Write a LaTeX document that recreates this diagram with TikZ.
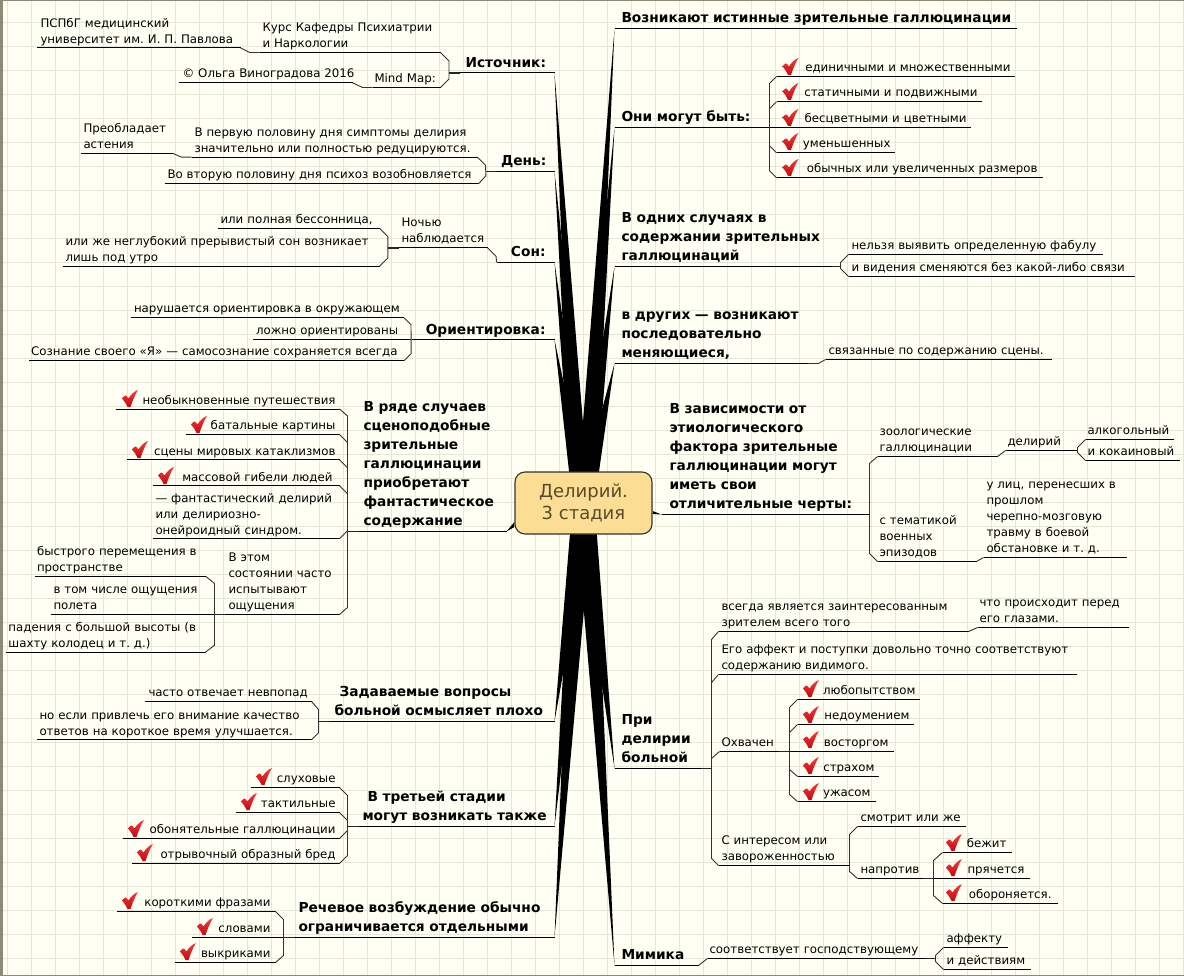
\documentclass[tikz,border=0pt]{standalone}
\usepackage{fontspec}
\setmainfont{DejaVu Sans}
\usepackage{xcolor}
\usepackage{tikz}
\usetikzlibrary{backgrounds}

\definecolor{paper}{HTML}{FFFFF3}
\definecolor{gridline}{HTML}{E4E6D6}
\definecolor{frameline}{HTML}{8A8C78}
\definecolor{hubfill}{HTML}{FBDD94}
\definecolor{hubtext}{HTML}{5A4A2A}
\definecolor{tickhigh}{HTML}{F53A3A}
\definecolor{ticklow}{HTML}{C20C12}

\newcommand{\spoke}[3]{\fill[black] ([xshift=#2pt]hub.center) -- (#1) -- ([xshift=#3pt]hub.center) -- cycle;}

\begin{document}
\frenchspacing
\begin{tikzpicture}[x=1pt,y=-1pt,
	lined/.style 2 args={inner xsep=#1pt,text width=(#2-2*#1)*1pt},
	leaf/.style={anchor=south west,xshift=0.5pt,yshift=-0.5pt,inner ysep=0pt,outer sep=0pt,align=left,font=\fontsize{11.8}{16}\selectfont,execute at end node=\strut},
	leafr/.style={leaf,align=right},
	head/.style={leaf,font=\fontsize{13.75}{19}\selectfont\bfseries},
	headr/.style={head,align=right},
	under/.style={line width=1pt,black},
	link/.style={line width=0.9pt,black!80,line join=round},
	stub/.style={line width=1.8pt,black!85},
	tick/.pic={\shade[top color=tickhigh,bottom color=ticklow,draw=none]
		(0,8.5) .. controls (1.5,6) and (3,5.5) .. (4,5.5) -- (6.5,8.5) .. controls (9,4.5) and (12,1.5) .. (16,0)
		.. controls (13,4.5) and (10.5,11) .. (8.5,17) -- (5.5,17) .. controls (4,13.5) and (2,10.5) .. (0,8.5) -- cycle;}]

	\useasboundingbox (0,0) rectangle (1184,976);

	% The root
	\node [draw=black!80,line width=1.1pt,fill=hubfill,rounded corners=10pt,minimum width=137pt,minimum height=62pt,align=center,text=hubtext,font=\fontsize{18}{22}\selectfont] at (583.5,503) (hub) {Делирий.\\3 стадия};

	% Top left
	\node [leaf,lined={4}{204}] at (36,47.5) (psmu) {ПСПбГ медицинский\\университет им. И. П. Павлова};
	\node [leaf,lined={3}{181}] at (259,52) (course) {Курс Кафедры Психиатрии\\и Наркологии};
	\node [leaf,lined={4}{174}] at (178,82.3) (author) {\mbox{© Ольга Виноградова 2016}};
	\node [leaf,lined={2}{68}] at (372,87) (mindmap) {\mbox{Mind Map:}};
	\node [head,lined={6}{95}] at (459,72.5) (source) {Источник:};

	\node [leaf,lined={3}{92}] at (80,152.7) (asthenia) {Преобладает\\астения};
	\node [leaf,lined={3}{286}] at (191,156.7) (firsthalf) {В первую половину дня симптомы делирия\\значительно или полностью редуцируются.};
	\node [leaf,lined={3}{314}] at (164,183.3) (secondhalf) {\mbox{Во вторую половину дня психоз возобновляется}};
	\node [head,lined={4.6}{58}] at (496,171) (day) {День:};

	\node [leaf,lined={3}{162}] at (217,227.7) (insomnia) {\mbox{или полная бессонница,}};
	\node [leaf,lined={3}{317}] at (62,265.7) (shallow) {или же неглубокий прерывистый сон возникает\\лишь под утро};
	\node [leaf,lined={3}{89}] at (398,247.3) (night) {Ночью\\наблюдается};
	\node [headr,lined={9}{58}] at (496,261.7) (sleep) {Сон:};

	\node [leaf,lined={3}{273}] at (130.5,317.3) (disturbed) {\mbox{нарушается ориентировка в окружающем}};
	\node [leaf,lined={3}{158}] at (252.6,339.3) (falsely) {\mbox{ложно ориентированы}};
	\node [leaf,lined={2}{375}] at (28.7,360) (selfaware) {\mbox{Сознание своего «Я» — самосознание сохраняется всегда}};
	\node [headr,lined={9}{143}] at (411,339.3) (orient) {Ориентировка:};

	% Middle left
	\node [leafr,lined={4}{224}] at (115,408.5) (travels) {необыкновенные путешествия};
	\node [leafr,lined={4}{154}] at (185,434) (battles) {батальные картины};
	\node [leafr,lined={4}{213}] at (126,459.3) (disasters) {сцены мировых катаклизмов};
	\node [leafr,lined={7}{187}] at (152,485.3) (deaths) {массовой гибели людей};
	\node [leaf,lined={3}{187}] at (152,538.3) (fantastic) {— фантастический делирий\\или делириозно-\\онейроидный синдром.};
	\node [leaf,lined={3}{114}] at (225,614) (feelings) {В этом\\состоянии часто\\испытывают\\ощущения};
	\node [leaf,lined={2}{171}] at (34.5,576) (moving) {быстрого перемещения в\\пространстве};
	\node [leaf,lined={3}{164}] at (50,614) (flight) {в том числе ощущения\\полета};
	\node [leaf,lined={3}{200}] at (5,651.7) (falling) {падения с большой высоты (в\\шахту колодец и т. д.)};
	\node [head,lined={5}{148}] at (358,531) (scenes) {В ряде случаев\\сценоподобные\\зрительные\\галлюцинации\\приобретают\\фантастическое\\содержание};

	% Bottom left
	\node [leaf,lined={4}{167}] at (144,701) (offpoint) {\mbox{часто отвечает невпопад}};
	\node [leaf,lined={3}{275}] at (36,739.3) (attention) {но если привлечь его внимание качество\\ответов на короткое время улучшается.};
	\node [head,lined={5}{225}] at (329,721) (questions) {\hspace*{5pt}Задаваемые вопросы\\больной осмысляет плохо};

	\node [leafr,lined={4}{89}] at (250,787) (auditory) {слуховые};
	\node [leafr,lined={4}{104}] at (235,812) (tactile) {тактильные};
	\node [leafr,lined={4}{217}] at (122,838) (olfactory) {обонятельные галлюцинации};
	\node [leafr,lined={4}{208}] at (131,863) (fragment) {отрывочный образный бред};
	\node [head,lined={4}{196}] at (358,826) (third) {\hspace*{5pt}В третьей стадии\\могут возникать также};

	\node [leafr,lined={5}{159}] at (116,911) (phrases) {короткими фразами};
	\node [leafr,lined={13}{92}] at (191,937) (words) {словами};
	\node [leafr,lined={5}{101}] at (174,962) (shouts) {выкриками};
	\node [head,lined={5}{261}] at (293,937) (speech) {Речевое возбуждение обычно\\ограничивается отдельными};

	% Top right
	\node [head,lined={7}{402}] at (614,28) (arise) {\mbox{Возникают истинные зрительные галлюцинации}};

	\node [head,lined={7}{155}] at (614,127) (canbe) {\mbox{Они могут быть:}};
	\node [leafr,lined={4}{238}] at (776,76) (single) {единичными и множественными};
	\node [leafr,lined={4}{205}] at (776,101.3) (static) {статичными и подвижными};
	\node [leafr,lined={4}{201}] at (769,127) (colour) {бесцветными и цветными};
	\node [leafr,lined={4}{118}] at (776,152.3) (reduced) {уменьшенных};
	\node [leafr,lined={5}{266}] at (776,177.3) (normal) {обычных или увеличенных размеров};

	\node [head,lined={7}{217}] at (614,266) (some) {В одних случаях в\\содержании зрительных\\галлюцинаций};
	\node [leaf,lined={3}{254}] at (848,254) (noplot) {\mbox{нельзя выявить определенную фабулу}};
	\node [leaf,lined={3}{286}] at (848,276) (noconn) {\mbox{и видения сменяются без какой-либо связи}};

	\node [head,lined={7}{193}] at (614,363) (others) {в других — возникают\\последовательно\\меняющиеся,};
	\node [leaf,lined={3}{226}] at (825,359) (related) {\mbox{связанные по содержанию сцены.}};

	% Middle right
	\node [head,lined={8}{208}] at (661,514) (factor) {В зависимости от\\этиологического\\фактора зрительные\\галлюцинации могут\\иметь свои\\отличительные черты:};
	\node [leaf,lined={2}{120}] at (877,456) (zoo) {зоологические\\галлюцинации};
	\node [leaf,lined={2}{71}] at (1005,450) (delirium) {делирий};
	\node [leaf,lined={2}{88}] at (1085,439) (alcohol) {алкогольный};
	\node [leaf,lined={2}{94}] at (1085,460) (cocaine) {\mbox{и кокаиновый}};
	\node [leaf,lined={2}{99}] at (877,561) (military) {с тематикой\\военных\\эпизодов};
	\node [leaf,lined={3}{143}] at (983,557) (trauma) {у лиц, перенесших в\\прошлом\\черепно-мозговую\\травму в боевой\\обстановке и т. д.};

	% Bottom right
	\node [head,lined={7}{86}] at (614,768) (patient) {При\\делирии\\больной};
	\node [leaf,lined={3}{250}] at (718,631) (viewer) {всегда является заинтересованным\\зрителем всего того};
	\node [leaf,lined={2}{151}] at (977,627) (before) {что происходит перед\\его глазами.};
	\node [leaf,lined={3}{358}] at (718,674) (affect) {Его аффект и поступки довольно точно соответствуют\\содержанию видимого.};
	\node [leaf,lined={2}{70}] at (719,751) (seized) {Охвачен};
	\node [leafr,lined={4}{122}] at (797,699) (curiosity) {любопытством};
	\node [leafr,lined={4}{116}] at (797,724) (puzzled) {недоумением};
	\node [leafr,lined={5}{104}] at (789,751) (delight) {восторгом};
	\node [leafr,lined={4}{81}] at (797,776) (fear) {страхом};
	\node [leafr,lined={5}{78}] at (797,801) (horror) {ужасом};
	\node [leaf,lined={3}{131}] at (718,865) (interest) {С интересом или\\завороженностью};
	\node [leaf,lined={3}{108}] at (857,826) (watches) {\mbox{смотрит или же}};
	\node [leaf,lined={3}{76}] at (857,878) (contrary) {напротив};
	\node [leafr,lined={5}{69}] at (942,852) (runs) {бежит};
	\node [leafr,lined={5}{96}] at (933,878) (hides) {прячется};
	\node [leafr,lined={6}{115}] at (942,903) (defends) {обороняется.};

	\node [head,lined={7}{84}] at (614,965) (mimic) {Мимика};
	\node [leaf,lined={2}{228}] at (707,958) (matches) {\mbox{соответствует господствующему}};
	\node [leaf,lined={3}{64}] at (943,947) (emotion) {аффекту};
	\node [leaf,lined={3}{87}] at (943,969) (actions) {\mbox{и действиям}};

	% Underlines
	\path[under]
	(psmu.south west) edge (psmu.south east)
	(course.south west) edge (course.south east)
	(author.south west) edge (author.south east)
	(mindmap.south west) edge (mindmap.south east)
	(source.south west) edge (source.south east)
	(asthenia.south west) edge (asthenia.south east)
	(firsthalf.south west) edge (firsthalf.south east)
	(secondhalf.south west) edge (secondhalf.south east)
	(day.south west) edge (day.south east)
	(insomnia.south west) edge (insomnia.south east)
	(shallow.south west) edge (shallow.south east)
	(night.south west) edge (night.south east)
	(sleep.south west) edge (sleep.south east)
	(disturbed.south west) edge (disturbed.south east)
	(falsely.south west) edge (falsely.south east)
	(selfaware.south west) edge (selfaware.south east)
	(orient.south west) edge (orient.south east)
	(travels.south west) edge (travels.south east)
	(battles.south west) edge (battles.south east)
	(disasters.south west) edge (disasters.south east)
	(deaths.south west) edge (deaths.south east)
	(fantastic.south west) edge (fantastic.south east)
	(feelings.south west) edge (feelings.south east)
	(moving.south west) edge (moving.south east)
	(flight.south west) edge (flight.south east)
	(falling.south west) edge (falling.south east)
	(scenes.south west) edge (scenes.south east)
	(offpoint.south west) edge (offpoint.south east)
	(attention.south west) edge (attention.south east)
	(questions.south west) edge (questions.south east)
	(auditory.south west) edge (auditory.south east)
	(tactile.south west) edge (tactile.south east)
	(olfactory.south west) edge (olfactory.south east)
	(fragment.south west) edge (fragment.south east)
	(third.south west) edge (third.south east)
	(phrases.south west) edge (phrases.south east)
	(words.south west) edge (words.south east)
	(shouts.south west) edge (shouts.south east)
	(speech.south west) edge (speech.south east)
	(arise.south west) edge (arise.south east)
	(canbe.south west) edge (canbe.south east)
	(single.south west) edge (single.south east)
	(static.south west) edge (static.south east)
	(colour.south west) edge (colour.south east)
	(reduced.south west) edge (reduced.south east)
	(normal.south west) edge (normal.south east)
	(some.south west) edge (some.south east)
	(noplot.south west) edge (noplot.south east)
	(noconn.south west) edge (noconn.south east)
	(others.south west) edge (others.south east)
	(related.south west) edge (related.south east)
	(factor.south west) edge (factor.south east)
	(zoo.south west) edge (zoo.south east)
	(delirium.south west) edge (delirium.south east)
	(alcohol.south west) edge (alcohol.south east)
	(cocaine.south west) edge (cocaine.south east)
	(military.south west) edge (military.south east)
	(trauma.south west) edge (trauma.south east)
	(patient.south west) edge (patient.south east)
	(viewer.south west) edge (viewer.south east)
	(before.south west) edge (before.south east)
	(affect.south west) edge (affect.south east)
	(seized.south west) edge (seized.south east)
	(curiosity.south west) edge (curiosity.south east)
	(puzzled.south west) edge (puzzled.south east)
	(delight.south west) edge (delight.south east)
	(fear.south west) edge (fear.south east)
	(horror.south west) edge (horror.south east)
	(interest.south west) edge (interest.south east)
	(watches.south west) edge (watches.south east)
	(contrary.south west) edge (contrary.south east)
	(runs.south west) edge (runs.south east)
	(hides.south west) edge (hides.south east)
	(defends.south west) edge (defends.south east)
	(mimic.south west) edge (mimic.south east)
	(matches.south west) edge (matches.south east)
	(emotion.south west) edge (emotion.south east)
	(actions.south west) edge (actions.south east);

	% Brackets, left side
	\draw[link] (psmu.south east) -- ++(9,4.5) -- (course.south west);
	\draw[link] (author.south east) -- ++(10,4.7) -- (mindmap.south west);
	\draw[link] (course.south east) -- ++(8.5,8.5) -- ([shift={(8.5,-8.5)}]mindmap.south east) -- (mindmap.south east);
	\draw[link] (asthenia.south east) -- ++(9,4) -- (firsthalf.south west);
	\draw[link] (firsthalf.south east) -- ++(8,8) -- ([shift={(7.4,-8)}]secondhalf.south east) -- (secondhalf.south east);
	\draw[link] (insomnia.south east) -- ++(8.3,8.3) -- ([shift={(8.3,-8.3)}]shallow.south east) -- (shallow.south east);
	\draw[link] (night.south east) -- ++(8.6,8.6) -- (sleep.south west);
	\draw[link] (disturbed.south east) -- ++(7,7) -- ([shift={(7,-7)}]selfaware.south east) -- (selfaware.south east);
	\draw[link] (travels.south east) -- ++(8,7) -- ([shift={(8,-7)}]feelings.south east) -- (feelings.south east);
	\draw[link] (battles.south east) -- ++(8,8);
	\draw[link] (disasters.south east) -- ++(8,8);
	\draw[link] (deaths.south east) -- ++(8,8);
	\draw[link] (fantastic.south east) -- ++(8,-8);
	\draw[link] (moving.south east) -- ++(8.5,7) -- ([shift={(9,-7)}]falling.south east) -- (falling.south east);
	\draw[link] (offpoint.south east) -- ++(7,8) -- ([shift={(7,-7)}]attention.south east) -- (attention.south east);
	\draw[link] (auditory.south east) -- ++(8,8) -- ([shift={(8,-8)}]fragment.south east) -- (fragment.south east);
	\draw[link] (tactile.south east) -- ++(8,8);
	\draw[link] (olfactory.south east) -- ++(8,-8);
	\draw[link] (phrases.south east) -- ++(8,8) -- ([shift={(8,-7)}]shouts.south east) -- (shouts.south east);

	% Brackets, right side
	\draw[link] (single.south west) -- ++(-7,7) -- ([shift={(-7,-7)}]normal.south west) -- (normal.south west);
	\draw[link] (static.south west) -- ++(-7,7);
	\draw[link] (reduced.south west) -- ++(-7,-7);
	\draw[link] (noplot.south west) -- ++(-8,8) -- ([shift={(-8,-8)}]noconn.south west) -- (noconn.south west);
	\draw[link] (others.south east) -- ++(11,0) -- (related.south west);
	\draw[link] (zoo.south west) -- ++(-8,7) -- ([shift={(-8,-8)}]military.south west) -- (military.south west);
	\draw[link] (zoo.south east) -- (delirium.south west);
	\draw[link] (alcohol.south west) -- ++(-8,8) -- ([shift={(-8,-8)}]cocaine.south west) -- (cocaine.south west);
	\draw[link] (military.south east) -- (trauma.south west);
	\draw[link] (viewer.south west) -- ++(-7,8) -- ([shift={(-7,-7)}]interest.south west) -- (interest.south west);
	\draw[link] (viewer.south east) -- (before.south west);
	\draw[link] (affect.south west) -- ++(-7,8);
	\draw[link] (seized.south west) -- ++(-8,7);
	\draw[link] (curiosity.south west) -- ++(-8,8) -- ([shift={(-8,-7)}]horror.south west) -- (horror.south west);
	\draw[link] (puzzled.south west) -- ++(-8,8);
	\draw[link] (fear.south west) -- ++(-8,-7);
	\draw[link] (watches.south west) -- ++(-8,8) -- ([shift={(-8,-7)}]contrary.south west) -- (contrary.south west);
	\draw[link] (runs.south west) -- ++(-9,8) -- ([shift={(-9,-8)}]defends.south west) -- (defends.south west);
	\draw[link] (mimic.south east) -- (matches.south west);
	\draw[link] (emotion.south west) -- ++(-8,8) -- ([shift={(-8,-8)}]actions.south west) -- (actions.south west);

	% Short dark joins
	\draw[stub] (source.south west) -- ++(-11,0);
	\draw[stub] (day.south west) -- ++(-11,0);
	\draw[stub] (night.south west) -- ++(-11,0);
	\draw[stub] (scenes.south west) -- ++(-11,0);
	\draw[stub] (feelings.south west) -- ++(-11,0);
	\draw[stub] (questions.south west) -- ++(-11,0);
	\draw[stub] (third.south west) -- ++(-11,0);
	\draw[stub] (speech.south west) -- ++(-10,0);
	\draw[stub] (some.south east) -- ++(9,0);
	\draw[stub] (patient.south east) -- ++(11,0);
	\draw[stub] (seized.south east) -- ++(-11,0);
	\draw[stub] (contrary.south east) -- ++(-11,0);
	\draw[stub] (matches.south east) -- ++(-11,0);

	% Check marks
	\pic at (782.5,58) {tick};
	\pic at (782.5,83) {tick};
	\pic at (782.5,109) {tick};
	\pic at (782.5,133) {tick};
	\pic at (782.5,159) {tick};
	\pic at (122,390) {tick};
	\pic at (191,416) {tick};
	\pic at (132,441) {tick};
	\pic at (158,467) {tick};
	\pic at (256,768) {tick};
	\pic at (241,793) {tick};
	\pic at (128,820) {tick};
	\pic at (137,844) {tick};
	\pic at (122,892) {tick};
	\pic at (197,918) {tick};
	\pic at (180,943) {tick};
	\pic at (803,680) {tick};
	\pic at (803,706) {tick};
	\pic at (803,731) {tick};
	\pic at (803,757) {tick};
	\pic at (803,783) {tick};
	\pic at (946,834) {tick};
	\pic at (946,859) {tick};
	\pic at (946,884) {tick};

	% Paper, grid and the thick branches
	\begin{scope}[on background layer]
		\fill[paper] (0,0) rectangle (1184,976);
		\foreach \gridx in {7.5,31.5,...,1183.5}
			\draw[gridline,line width=0.9pt] (\gridx,0) -- (\gridx,976);
		\foreach \gridy in {22.5,46.5,...,958.5}
			\draw[gridline,line width=0.9pt] (0,\gridy) -- (1184,\gridy);
		\fill[frameline] (0,0) rectangle (1184,1.5);
		\fill[frameline] (0,0) rectangle (2.5,976);
		\fill[frameline] (0,974.5) rectangle (1184,976);
		\spoke{source.south east}{-11}{6}
		\spoke{day.south east}{-11}{6}
		\spoke{sleep.south east}{-11}{6}
		\spoke{orient.south east}{-11}{6}
		\spoke{arise.south west}{-7}{11}
		\spoke{canbe.south west}{-7}{11}
		\spoke{some.south west}{-7}{11}
		\spoke{others.south west}{-7}{11}
		\spoke{questions.south east}{-11}{10}
		\spoke{third.south east}{-11}{10}
		\spoke{speech.south east}{-11}{10}
		\spoke{patient.south west}{-9}{11}
		\spoke{mimic.south west}{-9}{11}
		\fill[black] (scenes.south east) -- ([yshift=-24pt]hub.west) -- ([yshift=-19pt]hub.west) -- cycle;
		\fill[black] (factor.south west) -- ([yshift=-8pt]hub.east) -- ([yshift=-11pt]hub.east) -- cycle;
	\end{scope}

\end{tikzpicture}
\end{document}
